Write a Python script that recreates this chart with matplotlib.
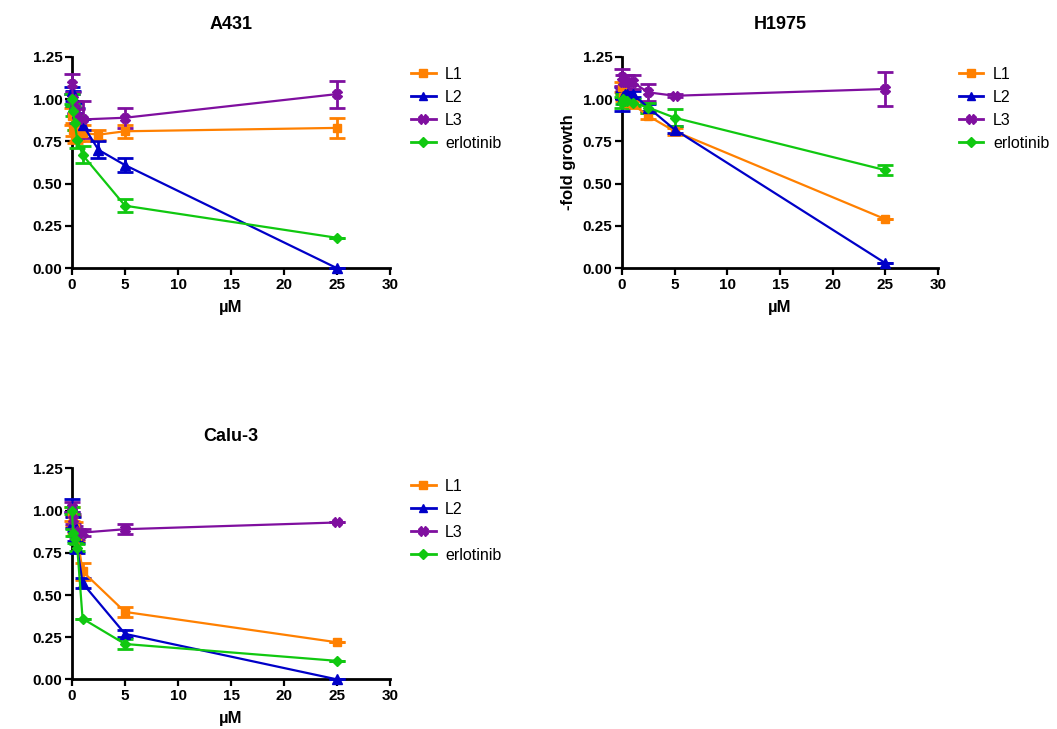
import numpy as np
import matplotlib.pyplot as plt
from matplotlib.lines import Line2D

plt.rcParams['font.family'] = ['Liberation Sans', 'DejaVu Sans']

# concentrations (uM)
conc_a431 = [0, 0.1, 0.25, 0.5, 1, 2.5, 5, 25]
conc_h1975 = [0, 0.1, 0.25, 0.5, 1, 2.5, 5, 25]
conc_calu3 = [0, 0.1, 0.25, 0.5, 1, 5, 25]

series_names = ['L1', 'L2', 'L3', 'erlotinib']

# A431
a431_l1 = [0.90, 0.82, 0.78, 0.80, 0.80, 0.79, 0.81, 0.83]
a431_l1_err = [0.05, 0.04, 0.04, 0.05, 0.05, 0.03, 0.04, 0.06]
a431_l2 = [1.05, 1.02, 0.95, 0.92, 0.85, 0.70, 0.61, 0.00]
a431_l2_err = [0.02, 0.03, 0.03, 0.03, 0.03, 0.05, 0.04, 0.0]
a431_l3 = [1.09, 1.00, 0.95, 0.90, 0.88, np.nan, 0.89, 1.03]
a431_l3_err = [0.06, 0.04, 0.04, 0.04, 0.11, 0.0, 0.06, 0.08]
a431_erl = [1.00, 0.93, 0.86, 0.76, 0.67, np.nan, 0.37, 0.18]
a431_erl_err = [0.03, 0.03, 0.04, 0.05, 0.05, 0.0, 0.04, 0.0]

# H1975
h1975_l1 = [1.07, 1.01, 0.99, 0.98, 0.97, 0.90, 0.81, 0.29]
h1975_l1_err = [0.03, 0.02, 0.02, 0.02, 0.02, 0.02, 0.02, 0.0]
h1975_l2 = [1.00, 1.02, 1.03, 1.03, 1.03, 0.95, 0.82, 0.03]
h1975_l2_err = [0.07, 0.02, 0.02, 0.02, 0.02, 0.02, 0.02, 0.0]
h1975_l3 = [1.13, 1.10, 1.10, 1.10, 1.10, 1.04, 1.02, 1.06]
h1975_l3_err = [0.05, 0.04, 0.04, 0.04, 0.04, 0.05, 0.01, 0.10]
h1975_erl = [0.98, 1.00, 0.99, 0.99, 0.98, 0.95, 0.89, 0.58]
h1975_erl_err = [0.03, 0.03, 0.02, 0.02, 0.02, 0.03, 0.05, 0.03]

# Calu-3
calu3_l1 = [0.98, 0.94, 0.90, 0.85, 0.64, 0.40, 0.22]
calu3_l1_err = [0.04, 0.03, 0.03, 0.03, 0.05, 0.03, 0.0]
calu3_l2 = [1.03, 0.93, 0.85, 0.78, 0.57, 0.27, 0.00]
calu3_l2_err = [0.04, 0.03, 0.03, 0.03, 0.03, 0.02, 0.0]
calu3_l3 = [1.02, 0.95, 0.88, 0.86, 0.87, 0.89, 0.93]
calu3_l3_err = [0.03, 0.03, 0.03, 0.03, 0.02, 0.03, 0.0]
calu3_erl = [1.00, 0.87, 0.83, 0.78, 0.36, 0.21, 0.11]
calu3_erl_err = [0.02, 0.02, 0.02, 0.02, 0.0, 0.03, 0.0]

colors = ['#FF8000', '#0000C8', '#7F0F9F', '#10C810']
markers = ['s', '^', 'X', 'D']
msizes = [6, 6.5, 7, 5.5]

panels = [
    ('A431', conc_a431, [a431_l1, a431_l2, a431_l3, a431_erl],
     [a431_l1_err, a431_l2_err, a431_l3_err, a431_erl_err], [0.0681, 0.632, 0.301, 0.290], False),
    ('H1975', conc_h1975, [h1975_l1, h1975_l2, h1975_l3, h1975_erl],
     [h1975_l1_err, h1975_l2_err, h1975_l3_err, h1975_erl_err], [0.5885, 0.632, 0.299, 0.290], True),
    ('Calu-3', conc_calu3, [calu3_l1, calu3_l2, calu3_l3, calu3_erl],
     [calu3_l1_err, calu3_l2_err, calu3_l3_err, calu3_erl_err], [0.0681, 0.068, 0.301, 0.2894], False),
]

fig = plt.figure(figsize=(10.57, 7.29), dpi=100)

for title, conc, vals, errs, rect, show_ylabel in panels:
    ax = fig.add_axes(rect)
    x = np.array(conc, dtype=float)
    handles = []
    for i in range(4):
        y = np.array(vals[i], dtype=float)
        e = np.array(errs[i], dtype=float)
        ok = ~np.isnan(y)
        ax.errorbar(x[ok], y[ok], yerr=e[ok], color=colors[i], marker=markers[i],
                    markersize=msizes[i], linewidth=1.6, elinewidth=2, capsize=6,
                    capthick=2, clip_on=False, zorder=3)
        handles.append(Line2D([], [], color=colors[i], marker=markers[i],
                              markersize=msizes[i] - 0.5, linewidth=2,
                              label=series_names[i]))
    ax.set_xlim(0, 30)
    ax.set_ylim(0, 1.25)
    ax.set_xticks([0, 5, 10, 15, 20, 25, 30])
    ax.set_yticks([0, 0.25, 0.5, 0.75, 1.0, 1.25])
    ax.set_yticklabels(['0.00', '0.25', '0.50', '0.75', '1.00', '1.25'])
    for lab in ax.get_xticklabels() + ax.get_yticklabels():
        lab.set_fontweight('bold')
        lab.set_fontsize(11)
    ax.tick_params(width=1.6, length=5, pad=2)
    ax.spines['top'].set_visible(False)
    ax.spines['right'].set_visible(False)
    ax.spines['left'].set_linewidth(2)
    ax.spines['bottom'].set_linewidth(2)
    ax.set_title(title, fontsize=13, fontweight='bold', pad=20)
    ax.set_xlabel('µM', fontsize=12, fontweight='bold', labelpad=6)
    if show_ylabel:
        ax.set_ylabel('-fold growth', fontsize=12, fontweight='bold', labelpad=5)
    ax.legend(handles=handles, loc='upper left', bbox_to_anchor=(1.04, 0.99),
              frameon=False, fontsize=11.5, handlelength=1.55, labelspacing=0.5,
              borderpad=0, handletextpad=0.6)

fig.savefig('out.png', dpi=100)
